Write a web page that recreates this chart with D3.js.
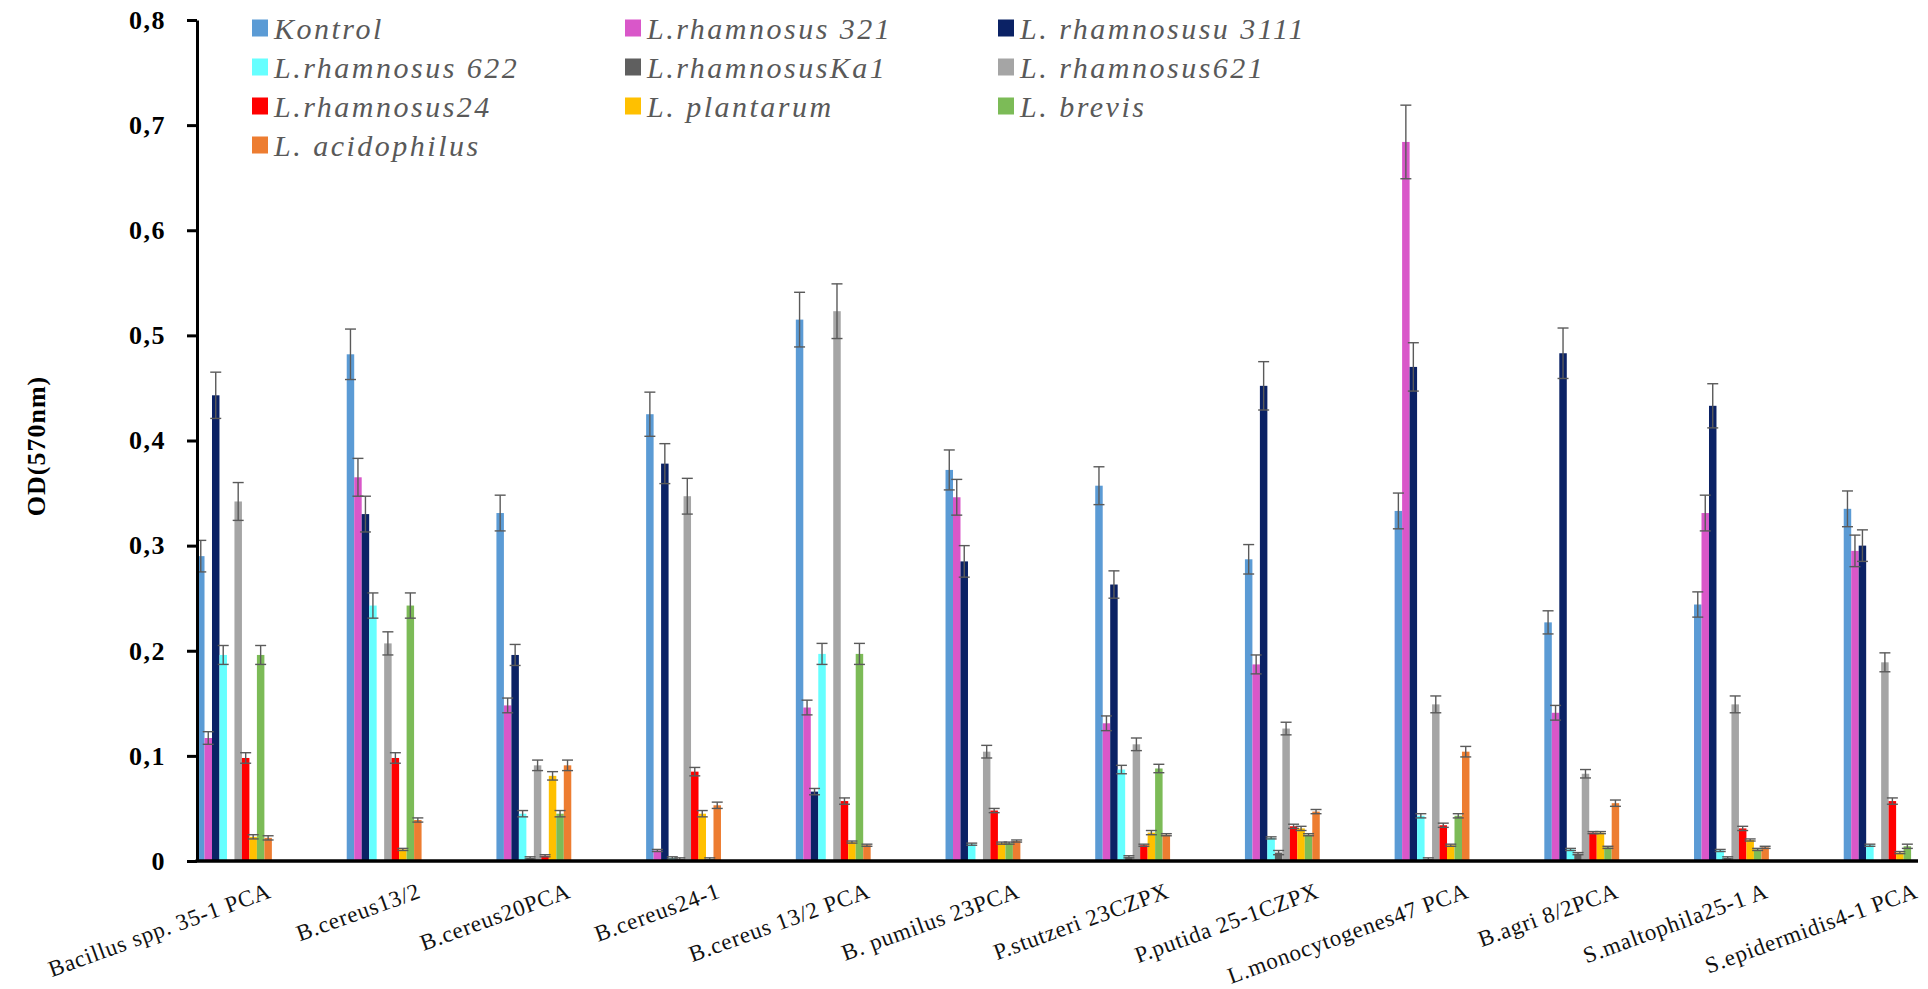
<!DOCTYPE html>
<html>
<head>
<meta charset="utf-8">
<script src="https://cdnjs.cloudflare.com/ajax/libs/d3/7.8.5/d3.min.js"></script>
<style>
  body { margin: 0; background: #fff; }
  svg { display: block; }
  .tick text { font-family: "Liberation Serif", "Times New Roman", serif; }
</style>
</head>
<body>
<div id="chart"></div>
<script>
// categories along the x axis
var categories = ["Bacillus spp. 35-1 PCA", "B.cereus13/2", "B.cereus20PCA", "B.cereus24-1",
    "B.cereus 13/2 PCA", "B. pumilus 23PCA", "P.stutzeri 23CZPX", "P.putida 25-1CZPX",
    "L.monocytogenes47 PCA", "B.agri 8/2PCA", "S.maltophila25-1 A", "S.epidermidis4-1 PCA"];

// series names (legend order)
var seriesNames = ["Kontrol", "L.rhamnosus 321", "L. rhamnosusu 3111", "L.rhamnosus 622",
    "L.rhamnosusKa1", "L. rhamnosus621", "L.rhamnosus24", "L. plantarum", "L. brevis", "L. acidophilus"];

var seriesColors = ["#5b9bd5", "#d957c9", "#0b2265", "#66ffff", "#5f5f5f",
    "#a5a5a5", "#ff0000", "#ffc000", "#7cbb57", "#ed7d31"];

// OD values, one array per series
var kontrol      = [0.290, 0.482, 0.331, 0.425, 0.515, 0.372, 0.357, 0.287, 0.333, 0.227, 0.244, 0.335];
var rham321      = [0.117, 0.365, 0.148, 0.010, 0.146, 0.346, 0.131, 0.187, 0.684, 0.141, 0.331, 0.295];
var rham3111     = [0.443, 0.330, 0.196, 0.378, 0.066, 0.285, 0.263, 0.452, 0.470, 0.483, 0.433, 0.300];
var rham622      = [0.196, 0.243, 0.045, 0.003, 0.197, 0.016, 0.087, 0.022, 0.043, 0.011, 0.010, 0.015];
var rhamKa1      = [0.000, 0.000, 0.003, 0.002, 0.000, 0.000, 0.004, 0.008, 0.002, 0.007, 0.003, 0.000];
var rham621      = [0.342, 0.207, 0.091, 0.347, 0.523, 0.104, 0.111, 0.126, 0.149, 0.083, 0.149, 0.189];
var rham24       = [0.098, 0.098, 0.005, 0.085, 0.057, 0.048, 0.015, 0.033, 0.034, 0.027, 0.031, 0.057];
var plantarum    = [0.023, 0.011, 0.081, 0.045, 0.018, 0.017, 0.027, 0.031, 0.015, 0.027, 0.020, 0.008];
var brevis       = [0.196, 0.243, 0.045, 0.002, 0.197, 0.017, 0.088, 0.025, 0.043, 0.013, 0.011, 0.014];
var acidophilus  = [0.022, 0.039, 0.091, 0.053, 0.015, 0.019, 0.025, 0.047, 0.104, 0.055, 0.013, null];

// standard errors, same order
var kontrolErr     = [0.015, 0.024, 0.017, 0.021, 0.026, 0.019, 0.018, 0.014, 0.017, 0.011, 0.012, 0.017];
var rham321Err     = [0.006, 0.018, 0.007, 0.001, 0.007, 0.017, 0.007, 0.009, 0.035, 0.007, 0.017, 0.015];
var rham3111Err    = [0.022, 0.017, 0.010, 0.019, 0.003, 0.015, 0.013, 0.023, 0.023, 0.024, 0.021, 0.015];
var rham622Err     = [0.009, 0.012, 0.003, 0.001, 0.010, 0.001, 0.004, 0.001, 0.002, 0.001, 0.001, 0.001];
var rhamKa1Err     = [0.000, 0.000, 0.001, 0.001, 0.000, 0.000, 0.001, 0.002, 0.001, 0.001, 0.001, 0.000];
var rham621Err     = [0.018, 0.011, 0.005, 0.017, 0.026, 0.006, 0.006, 0.006, 0.008, 0.004, 0.008, 0.009];
var rham24Err      = [0.005, 0.005, 0.001, 0.004, 0.003, 0.002, 0.001, 0.002, 0.002, 0.001, 0.002, 0.003];
var plantarumErr   = [0.002, 0.001, 0.004, 0.003, 0.001, 0.001, 0.002, 0.002, 0.001, 0.001, 0.001, 0.001];
var brevisErr      = [0.009, 0.012, 0.003, 0.001, 0.010, 0.001, 0.004, 0.001, 0.002, 0.001, 0.001, 0.002];
var acidophilusErr = [0.002, 0.002, 0.005, 0.003, 0.001, 0.001, 0.001, 0.002, 0.005, 0.003, 0.001, null];

var yTicks = [0, 0.1, 0.2, 0.3, 0.4, 0.5, 0.6, 0.7, 0.8];

var allValues = [kontrol, rham321, rham3111, rham622, rhamKa1, rham621, rham24, plantarum, brevis, acidophilus];
var allErrors = [kontrolErr, rham321Err, rham3111Err, rham622Err, rhamKa1Err, rham621Err, rham24Err, plantarumErr, brevisErr, acidophilusErr];

// flatten into one row per bar
var bars = [];
categories.forEach(function(c, i) {
    seriesNames.forEach(function(s, j) {
        if (allValues[j][i] == null) return;
        bars.push({ cat: c, series: s, color: seriesColors[j], value: allValues[j][i], err: allErrors[j][i] });
    });
});

var width = 1928, height = 989;
var axisX = 197, axisEnd = 1918;

var svg = d3.select("#chart").append("svg")
    .attr("width", width)
    .attr("height", height);

// scales - every group band is 149.7 wide, bars use the middle half (gap width 100%)
var x0 = d3.scaleBand().domain(categories).range([159.6, 159.6 + 149.7 * 12]).padding(0);
var x1 = d3.scaleBand().domain(seriesNames)
    .range([x0.bandwidth() / 4, x0.bandwidth() * 3 / 4]).padding(0);
var y = d3.scaleLinear().domain([0, 0.8]).range([861, 20]);

svg.append("clipPath").attr("id", "plotClip")
    .append("rect").attr("x", axisX).attr("y", 0).attr("width", axisEnd - axisX).attr("height", height);

var plot = svg.append("g").attr("clip-path", "url(#plotClip)");

// the bars
plot.selectAll("rect.bar")
    .data(bars)
    .enter().append("rect")
    .attr("class", "bar")
    .attr("x", function(d) { return x0(d.cat) + x1(d.series); })
    .attr("width", x1.bandwidth())
    .attr("y", function(d) { return y(d.value); })
    .attr("height", function(d) { return y(0) - y(d.value); })
    .attr("fill", function(d) { return d.color; });

// error bars (up and down, with caps)
var eb = plot.selectAll("g.err")
    .data(bars.filter(function(d) { return d.err > 0; }))
    .enter().append("g")
    .attr("class", "err")
    .attr("stroke", "#5a5a5a")
    .attr("stroke-width", 1.4);

var cx = function(d) { return x0(d.cat) + x1(d.series) + x1.bandwidth() / 2; };
eb.append("line")
    .attr("x1", cx).attr("x2", cx)
    .attr("y1", function(d) { return y(d.value + d.err); })
    .attr("y2", function(d) { return y(Math.max(0, d.value - d.err)); });
eb.append("line")
    .attr("x1", function(d) { return cx(d) - 5.5; }).attr("x2", function(d) { return cx(d) + 5.5; })
    .attr("y1", function(d) { return y(d.value + d.err); })
    .attr("y2", function(d) { return y(d.value + d.err); });
eb.append("line")
    .attr("x1", function(d) { return cx(d) - 5.5; }).attr("x2", function(d) { return cx(d) + 5.5; })
    .attr("y1", function(d) { return y(Math.max(0, d.value - d.err)); })
    .attr("y2", function(d) { return y(Math.max(0, d.value - d.err)); });

// Y axis
var yAxis = d3.axisLeft(y)
    .tickValues(yTicks)
    .tickSize(10)
    .tickSizeOuter(0)
    .tickPadding(21)
    .tickFormat(function(d) { return d === 0 ? "0" : d3.format(".1f")(d).replace(".", ","); });

var gY = svg.append("g")
    .attr("transform", "translate(" + axisX + ",0)")
    .call(yAxis);
gY.select(".domain").attr("stroke", "#000").attr("stroke-width", 3);
gY.selectAll(".tick line").attr("stroke", "#000").attr("stroke-width", 3);
gY.selectAll(".tick text")
    .attr("fill", "#000")
    .style("font-size", "26px")
    .style("font-weight", "bold")
    .style("letter-spacing", "1.5px");

// X baseline
svg.append("line")
    .attr("x1", axisX - 1.5).attr("x2", axisEnd)
    .attr("y1", y(0)).attr("y2", y(0))
    .attr("stroke", "#000")
    .attr("stroke-width", 3.5);

// category labels, slanted
svg.selectAll("text.cat")
    .data(categories)
    .enter().append("text")
    .attr("class", "cat")
    .attr("text-anchor", "end")
    .attr("transform", function(d) {
        return "translate(" + (x0(d) + x0.bandwidth() / 2 + 38) + ",897) rotate(-20)"; })
    .style("font-family", "'Liberation Serif', 'Times New Roman', serif")
    .style("font-size", "23px")
    .style("letter-spacing", "0.8px")
    .attr("fill", "#111")
    .text(function(d) { return d; });

// Y axis title
svg.append("text")
    .attr("transform", "translate(45,446) rotate(-90)")
    .attr("text-anchor", "middle")
    .style("font-family", "'Liberation Serif', 'Times New Roman', serif")
    .style("font-size", "26px")
    .style("font-weight", "bold")
    .style("letter-spacing", "1px")
    .text("OD(570nm)");

// legend, 3 columns
var legendCols = [252, 625, 998];
var legend = svg.selectAll("g.legend")
    .data(seriesNames)
    .enter().append("g")
    .attr("class", "legend")
    .attr("transform", function(d, i) {
        return "translate(" + legendCols[i % 3] + "," + (28 + Math.floor(i / 3) * 39) + ")"; });

legend.append("rect")
    .attr("x", 0).attr("y", -8.5)
    .attr("width", 16).attr("height", 17)
    .attr("fill", function(d, i) { return seriesColors[i]; });

legend.append("text")
    .attr("x", 22).attr("y", 11)
    .style("font-family", "'Liberation Serif', 'Times New Roman', serif")
    .style("font-style", "italic")
    .style("font-size", "30px")
    .style("letter-spacing", "2.5px")
    .attr("fill", "#595959")
    .text(function(d) { return d; });
</script>
</body>
</html>
